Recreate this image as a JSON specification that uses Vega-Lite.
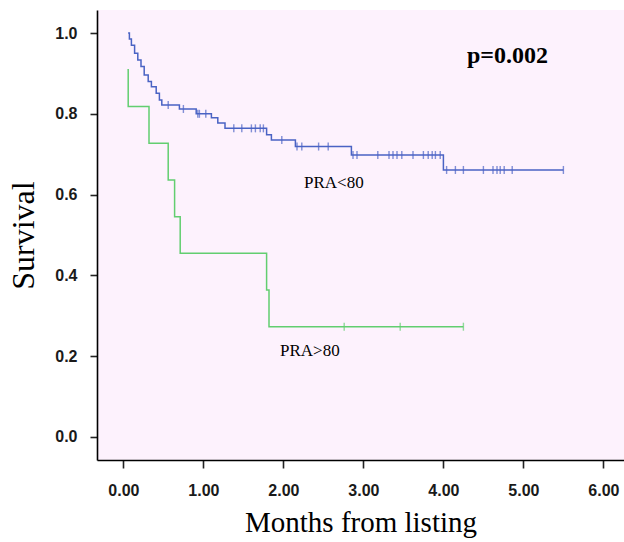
{
  "$schema": "https://vega.github.io/schema/vega-lite/v6.json",
  "width": 527,
  "height": 450,
  "autosize": "none",
  "padding": {"left": 97, "top": 10, "right": 0, "bottom": 82},
  "background": "white",
  "config": {
    "view": {"fill": "#fdf2fd", "stroke": null},
    "axis": {
      "domainColor": "black", "domainWidth": 1.6,
      "tickColor": "#222", "tickWidth": 1.6,
      "labelFont": "Liberation Sans", "labelFontSize": 16, "labelFontWeight": "bold", "labelColor": "#1a1a1a",
      "titleFont": "Liberation Serif", "titleFontWeight": "normal", "titleColor": "black",
      "grid": false
    }
  },
  "datasets": {
    "steps": [
      {"group": "PRA<80", "time": 0.059, "surv": 1.0},
      {"group": "PRA<80", "time": 0.075, "surv": 0.985},
      {"group": "PRA<80", "time": 0.10, "surv": 0.97},
      {"group": "PRA<80", "time": 0.14, "surv": 0.95},
      {"group": "PRA<80", "time": 0.18, "surv": 0.933},
      {"group": "PRA<80", "time": 0.22, "surv": 0.917},
      {"group": "PRA<80", "time": 0.26, "surv": 0.896},
      {"group": "PRA<80", "time": 0.31, "surv": 0.88},
      {"group": "PRA<80", "time": 0.35, "surv": 0.867},
      {"group": "PRA<80", "time": 0.41, "surv": 0.851},
      {"group": "PRA<80", "time": 0.45, "surv": 0.834},
      {"group": "PRA<80", "time": 0.48, "surv": 0.822},
      {"group": "PRA<80", "time": 0.70, "surv": 0.812},
      {"group": "PRA<80", "time": 0.91, "surv": 0.80},
      {"group": "PRA<80", "time": 1.10, "surv": 0.79},
      {"group": "PRA<80", "time": 1.18, "surv": 0.777},
      {"group": "PRA<80", "time": 1.27, "surv": 0.764},
      {"group": "PRA<80", "time": 1.79, "surv": 0.748},
      {"group": "PRA<80", "time": 1.85, "surv": 0.735},
      {"group": "PRA<80", "time": 2.15, "surv": 0.719},
      {"group": "PRA<80", "time": 2.85, "surv": 0.698},
      {"group": "PRA<80", "time": 4.00, "surv": 0.661},
      {"group": "PRA<80", "time": 5.50, "surv": 0.661},
      {"group": "PRA>80", "time": 0.05, "surv": 0.909},
      {"group": "PRA>80", "time": 0.06, "surv": 0.818},
      {"group": "PRA>80", "time": 0.32, "surv": 0.727},
      {"group": "PRA>80", "time": 0.56, "surv": 0.636},
      {"group": "PRA>80", "time": 0.64, "surv": 0.545},
      {"group": "PRA>80", "time": 0.71, "surv": 0.455},
      {"group": "PRA>80", "time": 1.79, "surv": 0.364},
      {"group": "PRA>80", "time": 1.82, "surv": 0.273},
      {"group": "PRA>80", "time": 4.25, "surv": 0.273}
    ],
    "censored": [
      {"group": "PRA<80", "time": 0.56, "surv": 0.822},
      {"group": "PRA<80", "time": 0.75, "surv": 0.812},
      {"group": "PRA<80", "time": 0.93, "surv": 0.80},
      {"group": "PRA<80", "time": 0.95, "surv": 0.80},
      {"group": "PRA<80", "time": 1.03, "surv": 0.80},
      {"group": "PRA<80", "time": 1.38, "surv": 0.764},
      {"group": "PRA<80", "time": 1.48, "surv": 0.764},
      {"group": "PRA<80", "time": 1.60, "surv": 0.764},
      {"group": "PRA<80", "time": 1.65, "surv": 0.764},
      {"group": "PRA<80", "time": 1.71, "surv": 0.764},
      {"group": "PRA<80", "time": 1.75, "surv": 0.764},
      {"group": "PRA<80", "time": 1.98, "surv": 0.735},
      {"group": "PRA<80", "time": 2.17, "surv": 0.719},
      {"group": "PRA<80", "time": 2.23, "surv": 0.719},
      {"group": "PRA<80", "time": 2.44, "surv": 0.719},
      {"group": "PRA<80", "time": 2.56, "surv": 0.719},
      {"group": "PRA<80", "time": 2.87, "surv": 0.698},
      {"group": "PRA<80", "time": 2.92, "surv": 0.698},
      {"group": "PRA<80", "time": 3.18, "surv": 0.698},
      {"group": "PRA<80", "time": 3.32, "surv": 0.698},
      {"group": "PRA<80", "time": 3.37, "surv": 0.698},
      {"group": "PRA<80", "time": 3.42, "surv": 0.698},
      {"group": "PRA<80", "time": 3.48, "surv": 0.698},
      {"group": "PRA<80", "time": 3.62, "surv": 0.698},
      {"group": "PRA<80", "time": 3.75, "surv": 0.698},
      {"group": "PRA<80", "time": 3.81, "surv": 0.698},
      {"group": "PRA<80", "time": 3.86, "surv": 0.698},
      {"group": "PRA<80", "time": 3.90, "surv": 0.698},
      {"group": "PRA<80", "time": 3.96, "surv": 0.698},
      {"group": "PRA<80", "time": 4.04, "surv": 0.661},
      {"group": "PRA<80", "time": 4.15, "surv": 0.661},
      {"group": "PRA<80", "time": 4.25, "surv": 0.661},
      {"group": "PRA<80", "time": 4.50, "surv": 0.661},
      {"group": "PRA<80", "time": 4.62, "surv": 0.661},
      {"group": "PRA<80", "time": 4.67, "surv": 0.661},
      {"group": "PRA<80", "time": 4.71, "surv": 0.661},
      {"group": "PRA<80", "time": 4.76, "surv": 0.661},
      {"group": "PRA<80", "time": 4.86, "surv": 0.661},
      {"group": "PRA<80", "time": 5.50, "surv": 0.661},
      {"group": "PRA>80", "time": 2.76, "surv": 0.273},
      {"group": "PRA>80", "time": 3.46, "surv": 0.273},
      {"group": "PRA>80", "time": 4.25, "surv": 0.273}
    ],
    "notes": [
      {"label": "p=0.002", "time": 4.80, "surv": 0.943, "bold": true},
      {"label": "PRA<80", "time": 2.63, "surv": 0.629, "bold": false},
      {"label": "PRA>80", "time": 2.33, "surv": 0.213, "bold": false}
    ]
  },
  "encoding": {
    "x": {
      "field": "time", "type": "quantitative",
      "scale": {"domain": [-0.33, 6.2575], "nice": false, "zero": false},
      "axis": {
        "title": "Months from listing", "values": [0, 1, 2, 3, 4, 5, 6], "format": ".2f",
        "tickSize": 8, "labelPadding": 14, "titleFontSize": 29, "titleY": 62, "titleBaseline": "middle"
      }
    },
    "y": {
      "field": "surv", "type": "quantitative",
      "scale": {"domain": [-0.057, 1.057], "nice": false, "zero": false},
      "axis": {
        "title": "Survival", "values": [0, 0.2, 0.4, 0.6, 0.8, 1.0], "format": ".1f",
        "tickSize": 7, "labelPadding": 13, "titleFontSize": 32, "titleX": -74, "titleBaseline": "middle"
      }
    }
  },
  "layer": [
    {
      "mark": {"type": "rule", "color": "black", "strokeWidth": 1.6},
      "encoding": {"x": null, "y": {"datum": 1.057}}
    },
    {
      "data": {"name": "steps"},
      "mark": {"type": "line", "interpolate": "step-after", "strokeWidth": 1.5},
      "encoding": {
        "color": {"field": "group", "type": "nominal",
          "scale": {"domain": ["PRA<80", "PRA>80"], "range": ["#4a63c4", "#62ce70"]}, "legend": null}
      }
    },
    {
      "data": {"name": "censored"},
      "mark": {"type": "tick", "orient": "vertical", "size": 8, "thickness": 1.4},
      "encoding": {
        "color": {"field": "group", "type": "nominal",
          "scale": {"domain": ["PRA<80", "PRA>80"], "range": ["#4a63c4", "#62ce70"]}, "legend": null}
      }
    },
    {
      "data": {"name": "notes"},
      "transform": [{"filter": "datum.bold"}],
      "mark": {"type": "text", "font": "Liberation Serif", "fontSize": 24, "fontWeight": "bold", "color": "black"},
      "encoding": {"text": {"field": "label"}}
    },
    {
      "data": {"name": "notes"},
      "transform": [{"filter": "!datum.bold"}],
      "mark": {"type": "text", "font": "Liberation Serif", "fontSize": 17, "color": "black"},
      "encoding": {"text": {"field": "label"}}
    }
  ]
}
